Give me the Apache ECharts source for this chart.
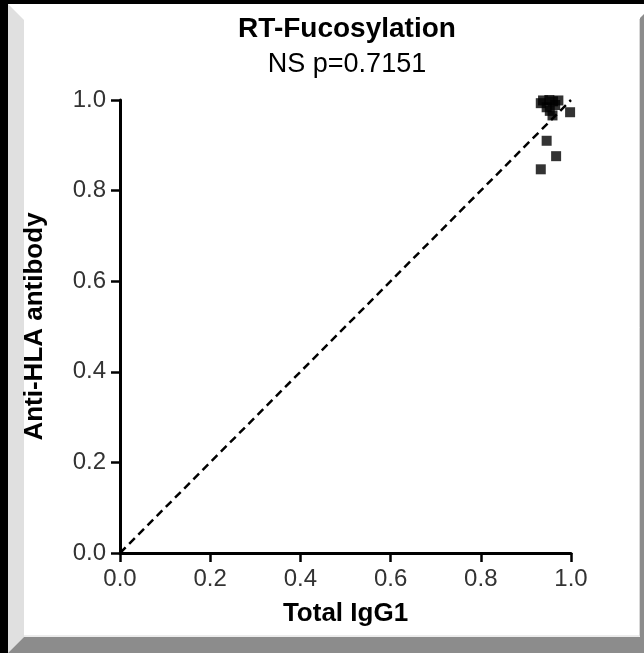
<!DOCTYPE html>
<html>
<head>
<meta charset="UTF-8">
<title>RT-Fucosylation</title>
<script src="https://cdn.jsdelivr.net/npm/echarts@6/dist/echarts.min.js"></script>
<style>html,body{margin:0;padding:0;background:#000;}</style>
</head>
<body>
<div id="main" style="width:644px;height:653px;"></div>
<script>
// scatter points: [Total IgG1, Anti-HLA antibody]
const totalIgG1 = [0.933, 0.938, 0.952, 0.960, 0.972, 0.965, 0.946, 0.953, 0.959, 0.998, 0.946, 0.967, 0.933];
const antiHLA   = [0.993, 0.999, 1.000, 0.997, 0.999, 0.989, 0.984, 0.976, 0.966, 0.973, 0.910, 0.876, 0.847];
const identityLine = [[0, 0], [1, 1]];
const tickValues = [0, 0.2, 0.4, 0.6, 0.8, 1.0];

const points = totalIgG1.map((x, i) => [x, antiHLA[i]]);

const myChart = echarts.init(document.getElementById('main'));

const labelStyle = {
    color: '#333',
    fontSize: 24,
    fontFamily: 'Liberation Sans',
    margin: 14,
    formatter: v => v.toFixed(1)
};

const axisCommon = {
    min: 0,
    max: 1,
    interval: 0.2,
    splitLine: { show: false },
    axisLine: { show: true, lineStyle: { color: '#000', width: 3 } },
    axisTick: { show: true, length: 9, lineStyle: { color: '#000', width: 2.5 } },
    axisLabel: labelStyle,
    nameLocation: 'middle',
    nameTextStyle: { color: '#000', fontSize: 26, fontWeight: 'bold', fontFamily: 'Liberation Sans' }
};

const option = {
    backgroundColor: '#000',
    animation: false,
    graphic: [
        // white panel with bevel frame
        { type: 'rect', z: -10, shape: { x: 8, y: 4, width: 636, height: 649 }, style: { fill: '#fff' } },
        { type: 'polygon', z: -9, shape: { points: [[8, 4], [24, 20], [24, 637], [8, 653]] }, style: { fill: '#e0e0e0' } },
        { type: 'polygon', z: -9, shape: { points: [[8, 653], [24, 637], [640, 637], [644, 633], [644, 653]] }, style: { fill: '#8c8c8c' } },
        { type: 'polygon', z: -9, shape: { points: [[640, 18], [644, 14], [644, 653], [640, 637]] }, style: { fill: '#8c8c8c' } },
        { type: 'line', z: -8, shape: { x1: 24, y1: 636, x2: 640, y2: 636 }, style: { stroke: '#d8d8d8', lineWidth: 1 } },
        { type: 'line', z: -8, shape: { x1: 639.5, y1: 19, x2: 639.5, y2: 636 }, style: { stroke: '#d8d8d8', lineWidth: 1 } }
    ],
    title: {
        text: 'RT-Fucosylation',
        subtext: 'NS p=0.7151',
        left: 342,
        textAlign: 'center',
        top: 10,
        itemGap: 8,
        textStyle: { color: '#000', fontSize: 28, fontWeight: 'bold', fontFamily: 'Liberation Sans' },
        subtextStyle: { color: '#000', fontSize: 27, fontFamily: 'Liberation Sans' }
    },
    grid: { left: 120, top: 100, right: 73, bottom: 100, containLabel: false },
    xAxis: Object.assign({}, axisCommon, {
        type: 'value',
        name: 'Total IgG1',
        nameGap: 48
    }),
    yAxis: Object.assign({}, axisCommon, {
        type: 'value',
        name: 'Anti-HLA antibody',
        nameGap: 72
    }),
    series: [
        {
            type: 'line',
            data: identityLine,
            symbol: 'none',
            lineStyle: { color: '#000', width: 2.5, type: [8, 5] },
            z: 2
        },
        {
            type: 'scatter',
            data: points,
            symbol: 'rect',
            symbolSize: 10,
            itemStyle: { color: '#000' },
            z: 3
        }
    ]
};

myChart.setOption(option);
</script>
</body>
</html>
